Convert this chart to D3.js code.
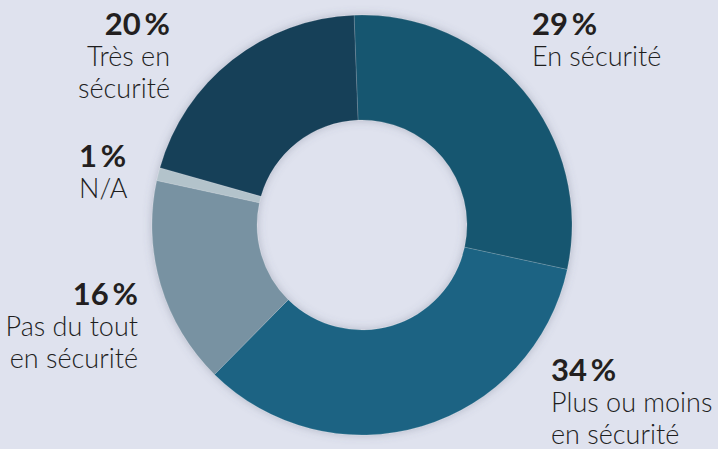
<!DOCTYPE html>
<html>
<head>
<meta charset="utf-8">
<script src="https://cdn.jsdelivr.net/npm/d3@7"></script>
<style>
  html, body { margin: 0; padding: 0; background: #dfe2ee; }
  svg { display: block; }
  .pct { font-family: Lato, "Open Sans", sans-serif; font-weight: 700; font-size: 31px; fill: #231f20; }
  .lbl { font-family: Lato, "Open Sans", sans-serif; font-weight: 300; font-size: 27px; fill: #1e1e1e; }
</style>
</head>
<body>
<div id="graph"></div>
<script>
// data, clockwise from the top
var categories = ["En sécurité", "Plus ou moins en sécurité", "Pas du tout en sécurité", "N/A", "Très en sécurité"];
var values = [29, 34, 16, 1, 20];
var labelLines = [["En sécurité"], ["Plus ou moins", "en sécurité"], ["Pas du tout", "en sécurité"], ["N/A"], ["Très en", "sécurité"]];
var colors = ["#19566f", "#1b6483", "#7892a2", "#b3c3cb", "#163f58"];

function ploteverything() {
    var width = 718, height = 449;
    var cx = 362, cy = 225,
        outerR = 210, innerR = 105;

    // where each label block sits (x, first baseline, anchor)
    var labelLayout = [
        { x: 532, y: 35, anchor: "start" },
        { x: 551, y: 381, anchor: "start" },
        { x: 138, y: 305, anchor: "end" },
        { x: 79, y: 167, anchor: "start" },
        { x: 170, y: 35, anchor: "end" }
    ];

    var svg = d3.select("#graph").append("svg")
        .attr("width", width)
        .attr("height", height);

    var defs = svg.append("defs");
    var f = defs.append("filter").attr("id", "shadow")
        .attr("x", "-20%").attr("y", "-20%").attr("width", "140%").attr("height", "140%");
    f.append("feDropShadow")
        .attr("dx", 0).attr("dy", 0)
        .attr("stdDeviation", 5)
        .attr("flood-color", "#5a6478")
        .attr("flood-opacity", 0.35);

    var start = -0.038;
    var pie = d3.pie()
        .sort(null)
        .value(function (d) { return d; })
        .startAngle(start)
        .endAngle(start + 2 * Math.PI);

    var arc = d3.arc()
        .innerRadius(innerR)
        .outerRadius(outerR);

    var g = svg.append("g")
        .attr("transform", "translate(" + cx + "," + cy + ")")
        .attr("filter", "url(#shadow)");

    g.selectAll(".slice")
        .data(pie(values))
        .enter().append("path")
        .attr("class", "slice")
        .attr("d", arc)
        .attr("fill", function (d, i) { return colors[i]; })
        .attr("stroke", "rgba(255,255,255,0.18)")
        .attr("stroke-width", 0.8);

    // labels
    var labels = svg.selectAll(".label")
        .data(categories)
        .enter().append("g")
        .attr("class", "label");

    labels.append("text")
        .attr("class", "pct")
        .attr("x", function (d, i) { return labelLayout[i].x; })
        .attr("y", function (d, i) { return labelLayout[i].y; })
        .attr("text-anchor", function (d, i) { return labelLayout[i].anchor; })
        .text(function (d, i) { return values[i] + "\u2009%"; });

    labels.each(function (d, i) {
        var sel = d3.select(this);
        labelLines[i].forEach(function (line, j) {
            sel.append("text")
                .attr("class", "lbl")
                .attr("x", labelLayout[i].x)
                .attr("y", labelLayout[i].y + 31 + j * 32)
                .attr("text-anchor", labelLayout[i].anchor)
                .text(line);
        });
    });
}
ploteverything();
</script>
</body>
</html>
